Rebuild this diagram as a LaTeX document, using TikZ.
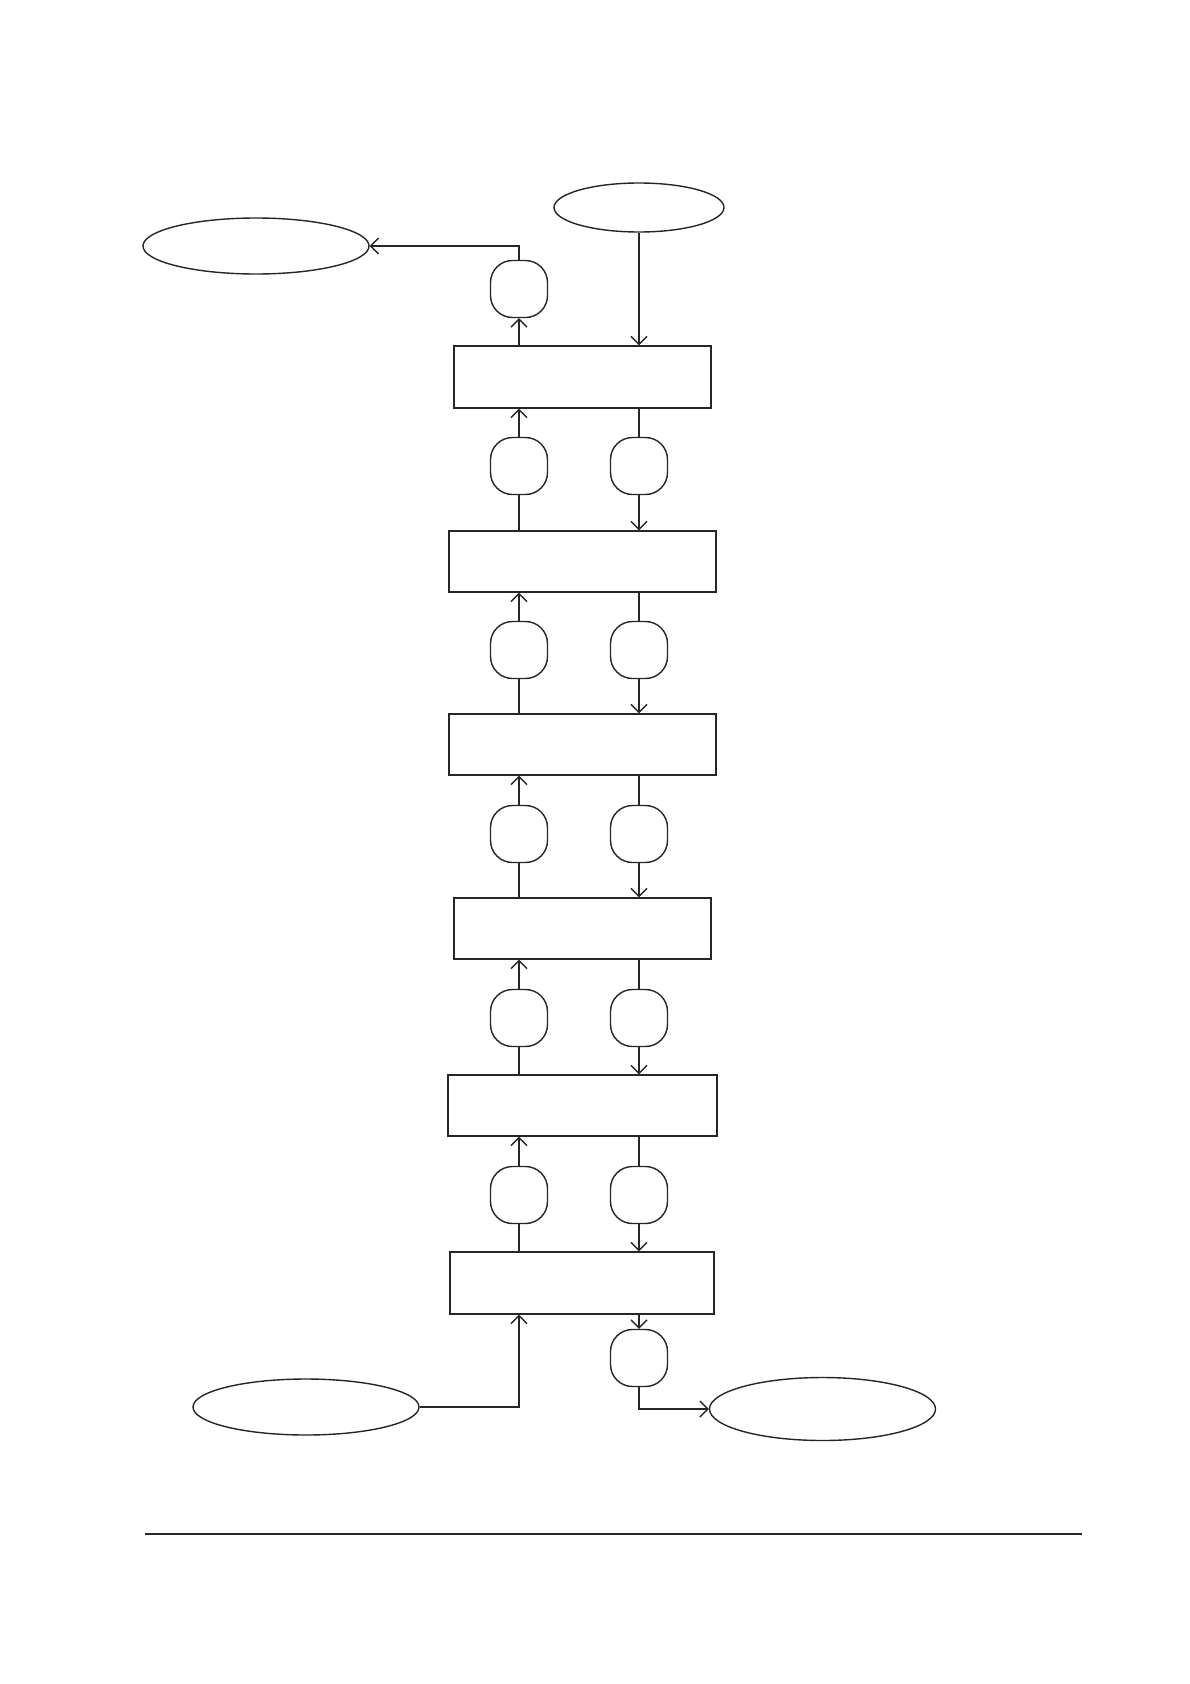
\documentclass[tikz,border=0pt]{standalone}
\usetikzlibrary{shapes.geometric,arrows.meta}
\tikzset{
  ln/.style={line width=1.4pt, draw=black!85},
  arr/.style={ln, -{Straight Barb[length=8pt,width=16pt,line width=1.4pt]}},
  oval/.style={ln, ellipse, inner sep=0pt},
  boxn/.style={ln, rectangle, inner sep=0pt},
  rnd/.style={ln, rectangle, rounded corners=22pt, minimum width=57pt, minimum height=57pt, inner sep=0pt}
}
\begin{document}
\begin{tikzpicture}[x=1pt,y=-1pt]
\useasboundingbox[fill=white] (0,0) rectangle (1190,1684);
% ellipses
\node[oval, minimum width=226pt, minimum height=56pt] (tl) at (256,246) {};
\node[oval, minimum width=170pt, minimum height=49pt] (tr) at (639,207.5) {};
\node[oval, minimum width=226pt, minimum height=56pt] (bl) at (306,1407) {};
\node[oval, minimum width=226pt, minimum height=63pt] (br) at (822.5,1409) {};
% boxes
\node[boxn, minimum width=257pt, minimum height=62pt] (b1) at (582.5,377) {};
\node[boxn, minimum width=267pt, minimum height=61pt] (b2) at (582.5,561.5) {};
\node[boxn, minimum width=267pt, minimum height=61pt] (b3) at (582.5,744.5) {};
\node[boxn, minimum width=257pt, minimum height=61pt] (b4) at (582.5,928.5) {};
\node[boxn, minimum width=269pt, minimum height=61pt] (b5) at (582.5,1105.5) {};
\node[boxn, minimum width=264pt, minimum height=62pt] (b6) at (582,1283) {};
% small rounded shapes
\node[rnd] (s0) at (519,289) {};
\foreach \i/\y in {2/466,3/650,4/834,5/1018,6/1195}{
  \node[rnd] (l\i) at (519,\y) {};
  \node[rnd] (r\i) at (639,\y) {};
}
\node[rnd] (sb) at (639,1358) {};
% top connectors
\draw[arr] (b1.north -| s0) -- (s0.south);
\draw[arr] (s0.north) |- (tl.east);
\draw[arr] (tr.south) -- (tr.south |- b1.north);
% column connectors
\foreach \i/\up/\dn in {2/b1/b2,3/b2/b3,4/b3/b4,5/b4/b5,6/b5/b6}{
  \draw[arr] (l\i.north) -- (l\i.north |- \up.south);
  \draw[ln] (\dn.north -| l\i) -- (l\i.south);
  \draw[ln] (\up.south -| r\i) -- (r\i.north);
  \draw[arr] (r\i.south) -- (r\i.south |- \dn.north);
}
% bottom connectors
\draw[arr] (bl.east) -| (b6.south -| l6);
\draw[arr] (b6.south -| sb) -- (sb.north);
\draw[arr] (sb.south) |- (br.west);
% rule
\coordinate (ra) at (145,1534);
\coordinate (rb) at (1082,1534);
\draw[line width=2.2pt, draw=black!85] (ra) -- (rb);
\end{tikzpicture}
\end{document}
